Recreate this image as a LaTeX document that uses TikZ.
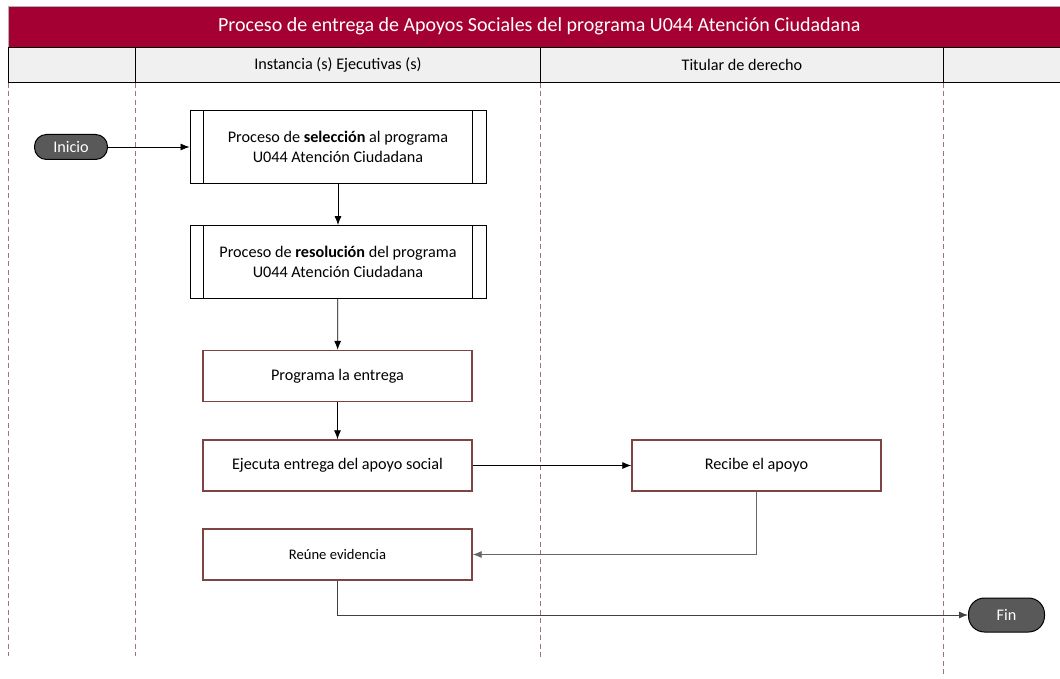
\documentclass[tikz,border=0pt]{standalone}
\usepackage{fontspec}
\setmainfont{Carlito}
\usetikzlibrary{shapes}
\usetikzlibrary{positioning}
\usetikzlibrary{arrows.meta}

\definecolor{guinda}{HTML}{A50034}
\definecolor{encabezado}{HTML}{F0F0F0}
\definecolor{borde}{HTML}{7D4444}
\definecolor{carril}{HTML}{A07575}
\definecolor{terminal}{HTML}{595959}

\tikzset{
    texto_base/.style={font=\fontsize{16.2}{19.5}\selectfont},
    actividad/.style={draw=borde, line width=1.4pt, fill=white, minimum width=269pt, minimum height=51pt, align=center, texto_base},
    subproceso/.style={draw=black, line width=0.9pt, fill=white, minimum width=296pt, minimum height=73pt, align=center, texto_base},
    terminador/.style={draw=black, line width=1pt, fill=terminal, text=white, rounded corners=12pt, minimum width=73pt, minimum height=25pt, texto_base},
    celda/.style={draw=black, line width=0.8pt, fill=encabezado, anchor=north west, minimum height=35pt, inner sep=0pt, texto_base},
    linea_carril/.style={draw=carril, line width=0.9pt, dash pattern=on 5pt off 3.5pt},
    flecha/.style={-{Latex[length=9pt,width=7pt]}, line width=0.8pt}
}

\begin{document}
\begin{tikzpicture}[x=1pt, y=-1pt]
    \useasboundingbox (0,0) rectangle (1060,679);

    % encabezados
    \node (titulo) [draw=gray!60, fill=guinda, text=white, anchor=north west, minimum width=1062pt, minimum height=41pt, inner sep=0pt, font=\fontsize{20}{24}\selectfont] at (8,6) {Proceso de entrega de Apoyos Sociales del programa U044 Atención Ciudadana};
    \node (carril_a) [celda, minimum width=127pt] at (8,47) {};
    \node (carril_b) [celda, minimum width=405pt] at (135,47) {Instancia (s) Ejecutivas (s)};
    \node (carril_c) [celda, minimum width=403pt] at (540,47) {Titular de derecho};
    \node (carril_d) [celda, minimum width=127pt] at (943,47) {};

    \draw [linea_carril] (carril_a.south west) -- ++(0,573);
    \draw [linea_carril] (carril_b.south west) -- ++(0,573);
    \draw [linea_carril] (carril_c.south west) -- ++(0,576);
    \draw [linea_carril] (carril_d.south west) -- ++(0,593);

    % actividades
    \node (inicio) [terminador] at (71,147) {Inicio};
    \node (seleccion) [subproceso] at (338,147) {Proceso de \textbf{selección} al programa\\U044 Atención Ciudadana};
    \node (resolucion) [subproceso] at (338,262) {Proceso de \textbf{resolución} del programa\\U044 Atención Ciudadana};
    \draw [line width=0.9pt] ([xshift=14pt]seleccion.north west) -- ([xshift=14pt]seleccion.south west);
    \draw [line width=0.9pt] ([xshift=-14pt]seleccion.north east) -- ([xshift=-14pt]seleccion.south east);
    \draw [line width=0.9pt] ([xshift=14pt]resolucion.north west) -- ([xshift=14pt]resolucion.south west);
    \draw [line width=0.9pt] ([xshift=-14pt]resolucion.north east) -- ([xshift=-14pt]resolucion.south east);

    \node (programa) [actividad] at (337.5,376) {Programa la entrega};
    \node (ejecuta) [actividad] at (337.5,465.5) {Ejecuta entrega del apoyo social};
    \node (reune) [actividad, font=\fontsize{14.6}{17}\selectfont] at (337.5,554.5) {Reúne evidencia};
    \node (recibe) [actividad, minimum width=249pt] at (756.5,465.5) {Recibe el apoyo};
    \node (fin) [terminador, minimum width=76pt, minimum height=34pt, rounded corners=16pt] at (1006.5,615) {Fin};

    % conectores
    \draw [flecha] (inicio) -- (seleccion);
    \draw [flecha] (seleccion) -- (resolucion);
    \draw [flecha] (resolucion) -- (programa);
    \draw [flecha] (programa) -- (ejecuta);
    \draw [flecha] (ejecuta) -- (recibe);
    \draw [flecha, draw=gray!80!black] (recibe.south) |- (reune.east);
    \draw [flecha, draw=black!75] (reune.south) |- (fin.west);
\end{tikzpicture}
\end{document}
